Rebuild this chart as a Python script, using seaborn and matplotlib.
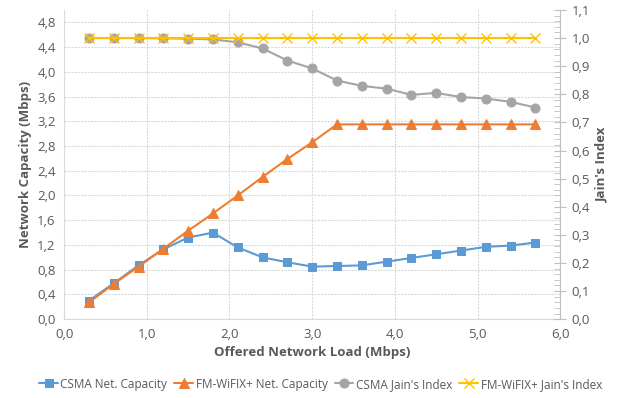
import pandas as pd
import numpy as np
import matplotlib.pyplot as plt
import seaborn as sns
from matplotlib.ticker import FuncFormatter, MultipleLocator

# data
load = [0.3, 0.6, 0.9, 1.2, 1.5, 1.8, 2.1, 2.4, 2.7, 3.0,
        3.3, 3.6, 3.9, 4.2, 4.5, 4.8, 5.1, 5.4, 5.7]
csma_cap = [0.30, 0.58, 0.87, 1.13, 1.32, 1.40, 1.16, 1.00, 0.92, 0.85,
            0.86, 0.87, 0.93, 0.99, 1.05, 1.11, 1.17, 1.19, 1.24]
fm_cap = [0.27, 0.57, 0.85, 1.14, 1.43, 1.71, 2.00, 2.30, 2.59, 2.86,
          3.15, 3.15, 3.15, 3.15, 3.15, 3.15, 3.15, 3.15, 3.15]
csma_jain = [1.0, 1.0, 1.0, 0.999, 0.998, 0.995, 0.985, 0.963, 0.92, 0.892,
             0.849, 0.830, 0.820, 0.798, 0.805, 0.790, 0.785, 0.773, 0.753]
fm_jain = [1.0] * len(load)

df = pd.DataFrame({'load': load, 'csma_cap': csma_cap, 'fm_cap': fm_cap,
                   'csma_jain': csma_jain, 'fm_jain': fm_jain})

sns.set_style('white')
plt.rcParams['font.family'] = ['Open Sans', 'DejaVu Sans']
txt = '#595959'

fig, ax = plt.subplots(figsize=(6.41, 3.98), dpi=100)
fig.subplots_adjust(left=0.1, right=0.874, top=0.975, bottom=0.198)
ax2 = ax.twinx()

sns.lineplot(data=df, x='load', y='csma_cap', ax=ax, color='#5B9BD5', marker='s',
             markersize=6, markeredgecolor='#5B9BD5', linewidth=1.5,
             label='CSMA Net. Capacity', legend=False)
sns.lineplot(data=df, x='load', y='fm_cap', ax=ax, color='#ED7D31', marker='^',
             markersize=7, markeredgecolor='#ED7D31', linewidth=1.5,
             label='FM-WiFIX+ Net. Capacity', legend=False)
sns.lineplot(data=df, x='load', y='csma_jain', ax=ax2, color='#A5A5A5', marker='o',
             markersize=6.5, markeredgecolor='#A5A5A5', linewidth=1.5,
             label="CSMA Jain's Index", legend=False)
sns.lineplot(data=df, x='load', y='fm_jain', ax=ax2, color='#FFC000', marker='x',
             markersize=7, markeredgecolor='#FFC000', markeredgewidth=1, linewidth=1.5,
             label="FM-WiFIX+ Jain's Index", legend=False)

comma = FuncFormatter(lambda v, p: f"{v:.1f}".replace('.', ','))

ax.set_xlim(0, 6)
ax.set_ylim(0, 5.0)
ax.set_yticks(np.arange(0, 4.81, 0.4))
ax.xaxis.set_major_locator(MultipleLocator(1))
ax.xaxis.set_major_formatter(comma)
ax.yaxis.set_major_formatter(comma)
ax2.set_ylim(0, 1.1)
ax2.yaxis.set_major_locator(MultipleLocator(0.1))
ax2.yaxis.set_minor_locator(MultipleLocator(0.02))
ax2.yaxis.set_major_formatter(comma)

ax.grid(True, color='#D9D9D9', linestyle=(0, (2, 1)), linewidth=0.8)
ax.set_axisbelow(True)

for a in (ax, ax2):
    for s in a.spines.values():
        s.set_visible(False)
ax.spines['left'].set_visible(True)
ax.spines['left'].set_color('#D9D9D9')
ax.spines['bottom'].set_visible(True)
ax.spines['bottom'].set_color('#D9D9D9')
ax2.spines['right'].set_visible(True)
ax2.spines['right'].set_color('#BFBFBF')

ax.tick_params(axis='both', length=0, labelsize=9.5, labelcolor=txt, pad=6)
ax2.tick_params(axis='y', which='major', direction='inout', length=8, color='#BFBFBF',
                labelsize=9.5, labelcolor=txt, pad=4)
ax2.tick_params(axis='y', which='minor', direction='in', length=4, color='#BFBFBF')

ax.set_xlabel('Offered Network Load (Mbps)', fontsize=9.5, fontweight='bold', color=txt)
ax.set_ylabel('Network Capacity (Mbps)', fontsize=9.5, fontweight='bold', color=txt)
ax2.set_ylabel("Jain's Index", fontsize=9.5, fontweight='bold', color=txt)

h1, l1 = ax.get_legend_handles_labels()
h2, l2 = ax2.get_legend_handles_labels()
fig.legend(h1 + h2, l1 + l2, loc='center', bbox_to_anchor=(0.5, 0.035), ncol=4,
           frameon=False, fontsize=8.5, labelcolor=txt, handlelength=1.6,
           handletextpad=0.2, columnspacing=0.6)

plt.savefig('out.png', dpi=100)
